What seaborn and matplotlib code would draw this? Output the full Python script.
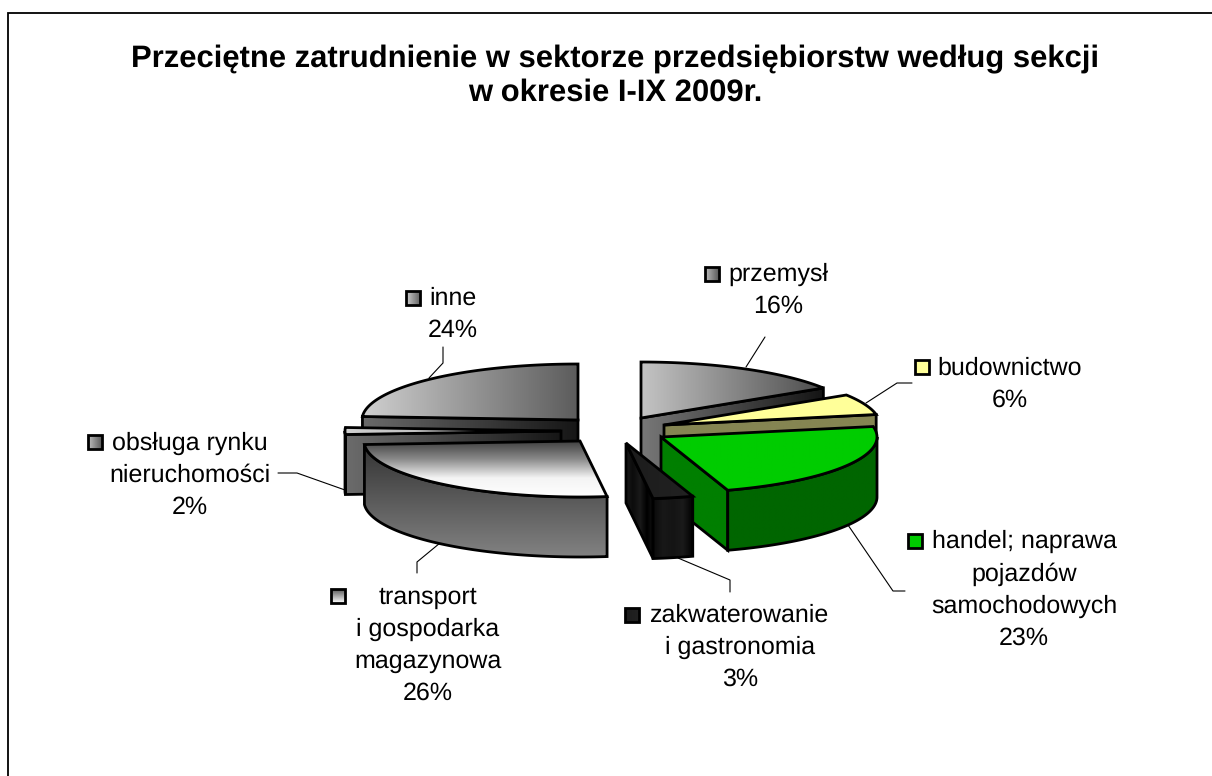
import numpy as np
import matplotlib
matplotlib.use("Agg")
import matplotlib.pyplot as plt
from matplotlib.patches import Polygon
import seaborn as sns

# ---- data -------------------------------------------------------------
categories = ["przemysł", "budownictwo", "handel; naprawa\npojazdów\nsamochodowych",
              "zakwaterowanie\ni gastronomia", "transport\ni gospodarka\nmagazynowa",
              "obsługa rynku\nnieruchomości", "inne"]
shares = [16, 6, 23, 3, 26, 2, 24]
title = "Przeciętne zatrudnienie w sektorze przedsiębiorstw według sekcji\nw okresie I-IX 2009r."

# ---- layout / style ---------------------------------------------------
RX, RY, DEPTH = 216, 56, 60
LW = 2.0
apex = [(641, 418), (664, 425), (661, 437), (626, 443), (580, 441), (561, 431), (578, 420)]
draw_order = [6, 5, 4, 0, 1, 2, 3]
top_grad = [("h", ["#c4c4c4", "#4c4c4c"]), ("h", ["#ffff99", "#ffff99"]), ("h", ["#00cc00", "#00cc00"]),
            ("h", ["#1c1c1c", "#222222"]), ("v", ["#3c3c3c", "#8a8a8a", "#f4f4f4", "#ffffff"]),
            ("h", ["#d0d0d0", "#bbbbbb", "#222222"]), ("h", ["#d0d0d0", "#5c5c5c"])]
face_grad = [("h", ["#787878", "#141414"]), ("h", ["#858552", "#858552"]), ("h", ["#007f00", "#007f00"]),
             ("h", ["#181818", "#0c0c0c", "#1a1a1a", "#000000", "#141414"]), ("v", ["#3a3a3a", "#808080"]),
             ("h", ["#6c6c6c", "#161616"]), ("h", ["#6a6a6a", "#161616"])]
band_grad = [("v", ["#555555", "#333333"]), ("v", ["#858552", "#858552"]), ("v", ["#006600", "#006600"]),
             ("h", ["#0a0a0a", "#181818", "#141414", "#1a1a1a", "#000000"]), ("v", ["#333333", "#828282"]),
             ("h", ["#6c6c6c", "#6c6c6c"]), ("v", ["#6a6a6a", "#6a6a6a"])]
key_grad = [("h", ["#c0c0c0", "#505050"]), ("h", ["#ffff99", "#ffff99"]), ("h", ["#00cc00", "#00cc00"]),
            ("h", ["#1c1c1c", "#222222"]), ("v", ["#4a4a4a", "#ffffff"]),
            ("h", ["#c0c0c0", "#505050"]), ("h", ["#d0d0d0", "#5c5c5c"])]
key_xy = [(712, 274), (922, 367), (915, 541), (632, 615), (338, 596), (95, 442), (413, 298)]
label_xy = [(778, 290), (1010, 384), (1024, 590), (740, 647), (428, 645), (190, 475), (453, 314)]
leaders = [[(746, 367), (765, 337)],
           [(866, 403), (897, 383), (912, 383)],
           [(848, 525), (893, 591), (905, 591)],
           [(678, 558), (730, 580), (730, 592)],
           [(440, 543), (417, 562), (417, 573)],
           [(345, 490), (297, 473), (278, 473)],
           [(429, 378), (443, 363), (443, 347)]]
FONT = "Liberation Sans"
FS = 17.8

sns.set_theme(style="white")
plt.rcParams["font.family"] = [FONT, "DejaVu Sans"]
plt.rcParams["text.hinting"] = "no_hinting"
plt.rcParams["text.hinting_factor"] = 1

fig = plt.figure(figsize=(12.12, 7.76), dpi=100, facecolor="white")
ax = fig.add_axes([0, 0, 1, 1])
ax.set_xlim(0, 1212)
ax.set_ylim(776, 0)
ax.axis("off")


def grad_poly(pts, grad, z, lw=LW):
    """Fill a polygon with a seaborn blend palette and draw its outline."""
    pts = np.asarray(pts, float)
    kind, cols = grad
    x0, y0 = pts.min(axis=0)
    x1, y1 = pts.max(axis=0)
    cmap = sns.blend_palette(cols, n_colors=256, as_cmap=True)
    ramp = np.linspace(0, 1, 256)
    img = ramp[None, :] if kind == "h" else ramp[:, None]
    im = ax.imshow(img, cmap=cmap, vmin=0, vmax=1, extent=(x0, x1 + 0.01, y1 + 0.01, y0),
                   aspect="auto", interpolation="bilinear", zorder=z)
    poly = Polygon(pts, closed=True, transform=ax.transData, fill=False,
                   edgecolor="black", lw=lw, joinstyle="miter", zorder=z + 0.1)
    ax.add_patch(poly)
    im.set_clip_path(poly)


def point(i, deg, drop=0.0):
    a = np.radians(deg)
    return apex[i][0] + RX * np.sin(a), apex[i][1] - RY * np.cos(a) + drop


def arc(i, a0, a1, drop=0.0):
    n = max(int(abs(a1 - a0) * 2), 2)
    return [point(i, a, drop) for a in np.linspace(a0, a1, n)]


edges = np.concatenate([[0], np.cumsum(shares)]) * 3.6
z = 2.0
for i in draw_order:
    a0, a1 = edges[i], edges[i + 1]
    ax_, ay = apex[i]
    low = (ax_, ay + DEPTH)
    # radial cut faces, only when turned towards the viewer
    if -np.sin(np.radians(a0)) > 1e-6:
        grad_poly([apex[i], point(i, a0), point(i, a0, DEPTH), low], face_grad[i], z); z += 1
    if np.sin(np.radians(a1)) > 1e-6:
        grad_poly([apex[i], point(i, a1), point(i, a1, DEPTH), low], face_grad[i], z); z += 1
    # outer band for the front half of the rim
    b0, b1 = max(a0, 90), min(a1, 270)
    if b1 > b0:
        grad_poly(arc(i, b0, b1) + arc(i, b1, b0, DEPTH), band_grad[i], z); z += 1
    # top surface
    grad_poly([apex[i]] + arc(i, a0, a1), top_grad[i], z); z += 1

# leader lines
for line in leaders:
    xs, ys = zip(*line)
    ax.plot(xs, ys, color="black", lw=0.8, zorder=1, solid_joinstyle="miter")

# labels with legend keys
for i, (name, v) in enumerate(zip(categories, shares)):
    ax.text(*label_xy[i], f"{name}\n{v}%", ha="center", va="center", ma="center", fontsize=FS,
            linespacing=1.48, color="black", zorder=200)
    kx, ky = key_xy[i]
    s = 7
    grad_poly([(kx - s, ky - s), (kx + s, ky - s), (kx + s, ky + s), (kx - s, ky + s)], key_grad[i], 150 + i)

# title
ax.text(615, 76, title, ha="center", va="center", ma="center", fontsize=22.0,
        fontweight="bold", linespacing=1.2, color="black", zorder=200)

# chart-area border (only top and left are inside the picture)
ax.plot([8, 8, 1212], [776, 13, 13], color="black", lw=1.3, zorder=1, solid_joinstyle="miter")

fig.savefig("out.png", dpi=100, facecolor="white")
